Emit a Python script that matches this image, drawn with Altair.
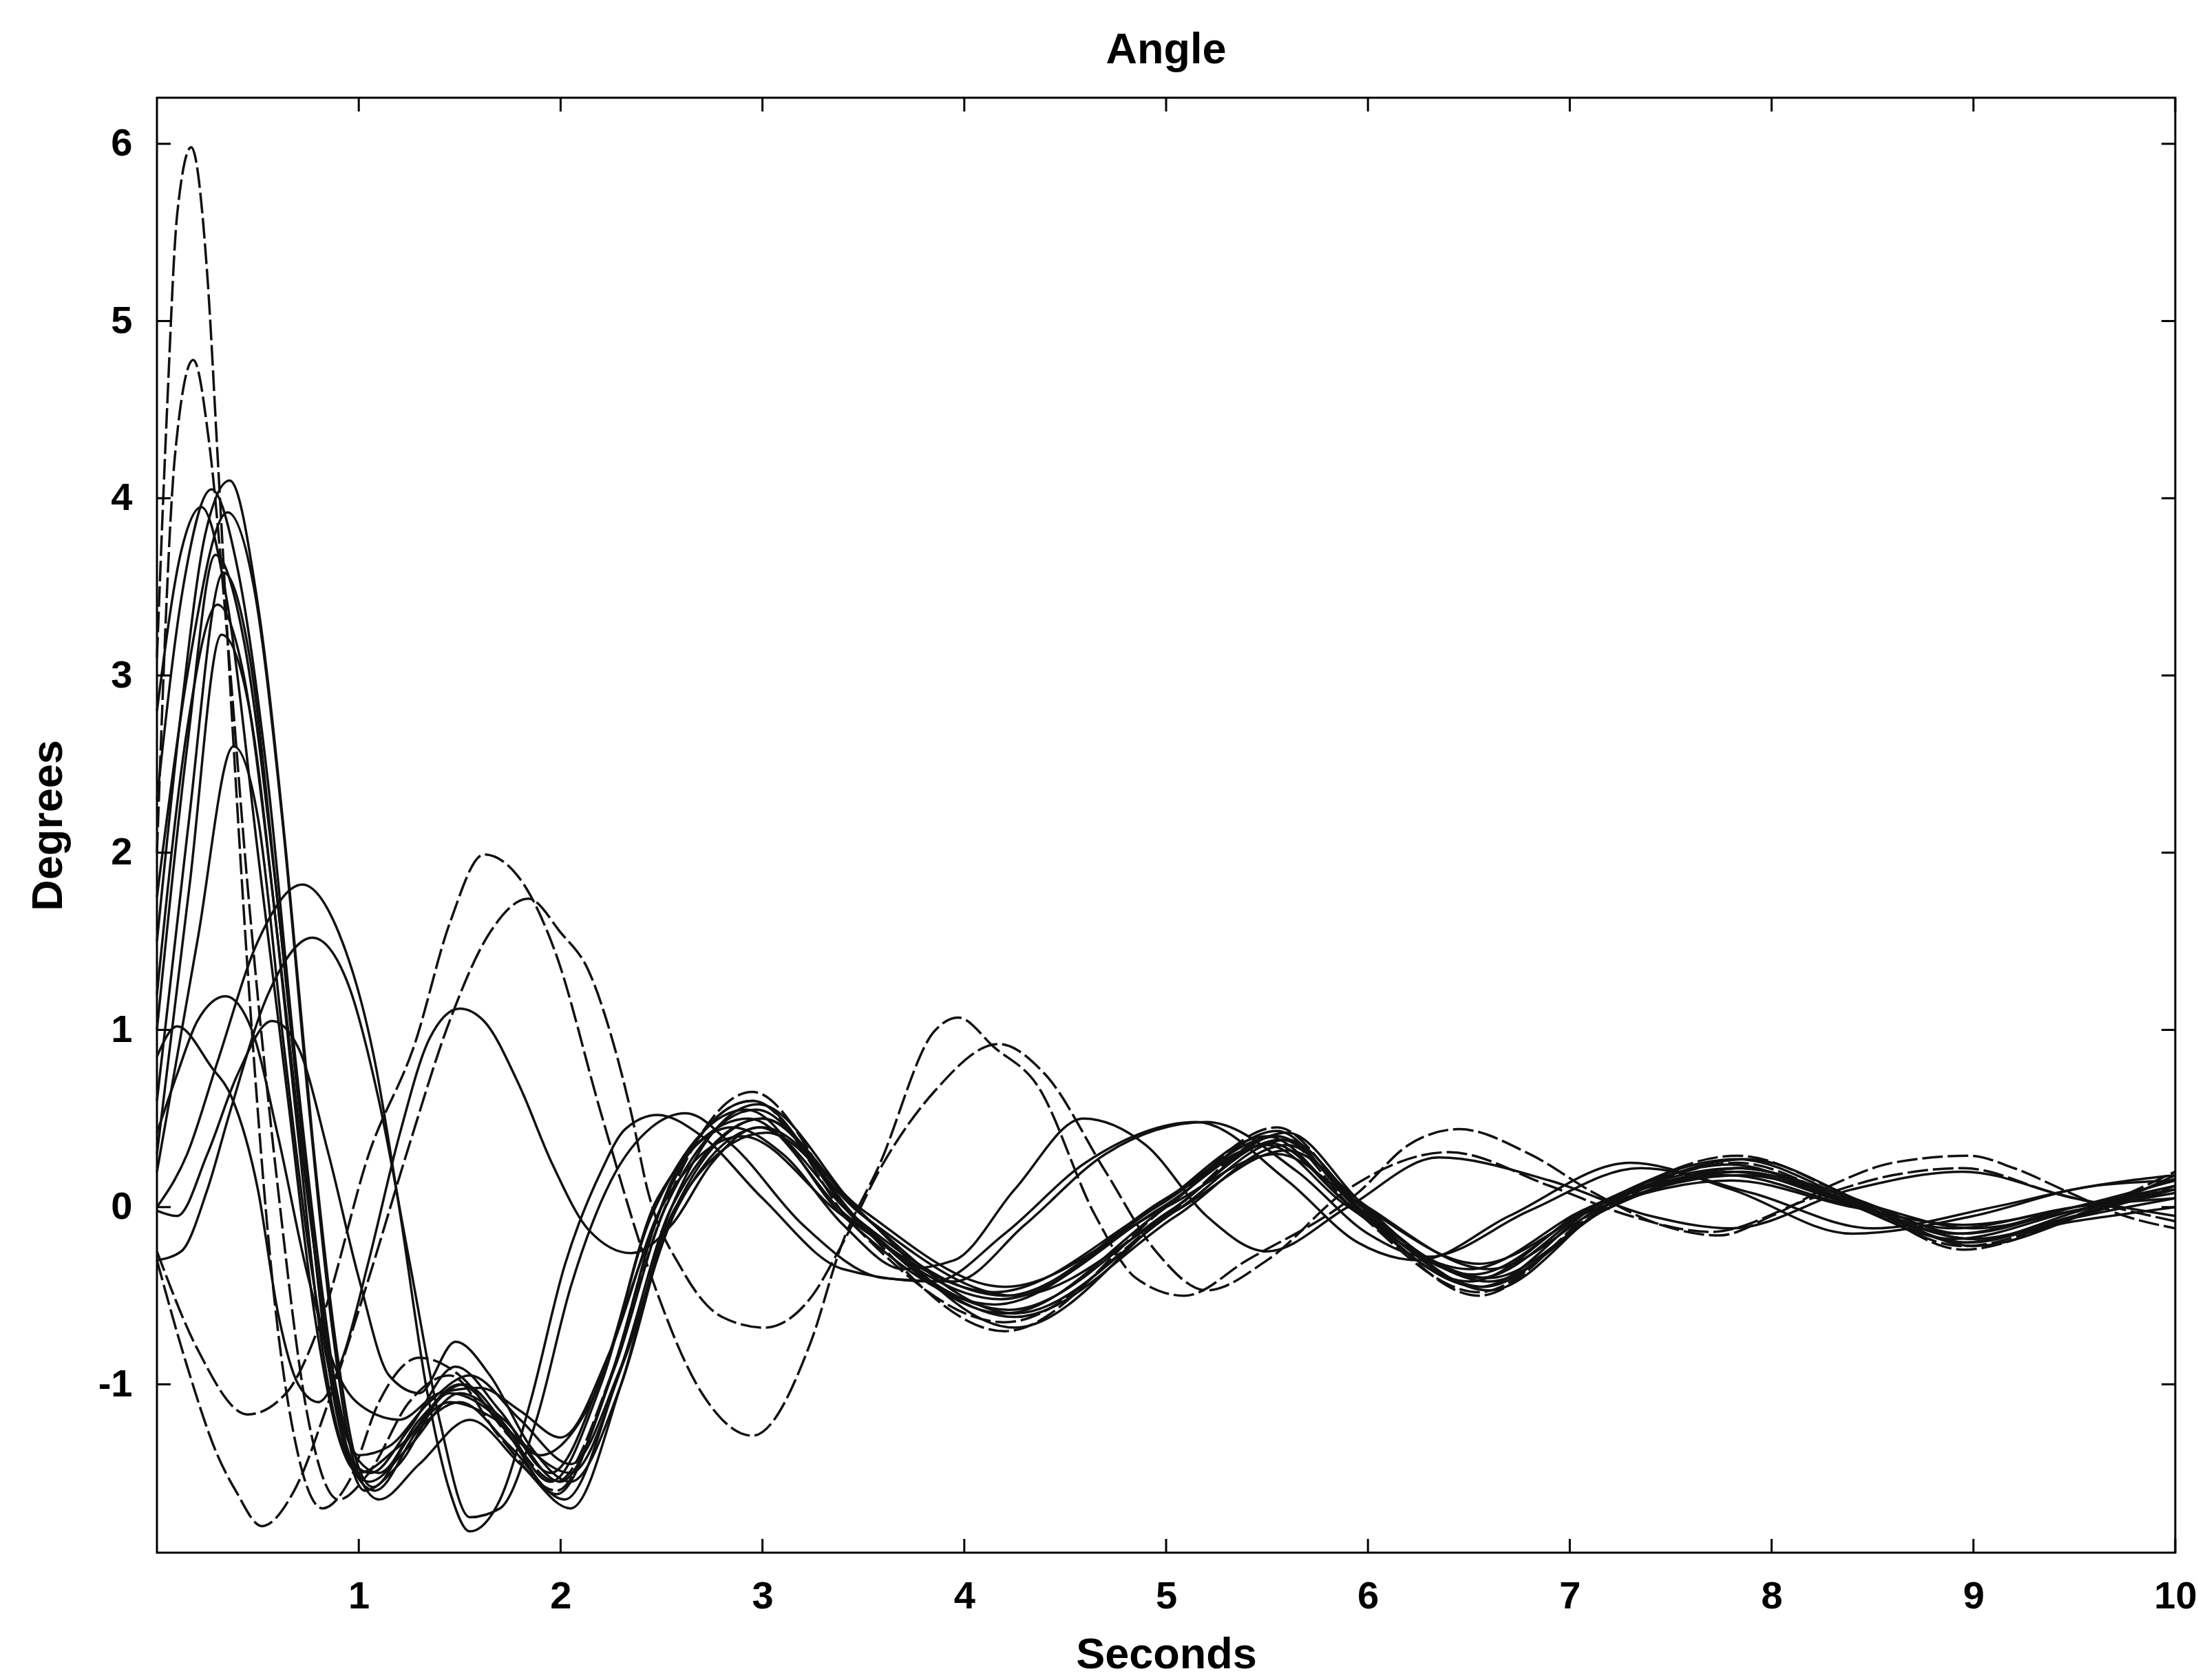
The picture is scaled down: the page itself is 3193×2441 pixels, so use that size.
import altair as alt
import pandas as pd

# ---- data: each curve as (seconds, degrees) pairs ----
C1 = [(0,3.1),(0.05,4.5),(0.1,5.6),(0.17,5.98),(0.25,5.25),(0.3,4.25),(0.38,2.6),(0.47,1.0),(0.58,-0.5),(0.7,-1.4),(0.82,-1.7),(0.95,-1.55),(1.1,-1.1),(1.3,-0.85),(1.5,-0.95),(1.75,-1.3),(1.98,-1.55),(2.25,-0.95),(2.5,-0.05),(2.95,0.65),(3.45,-0.05),(4.2,-0.7),(5.0,0.0),(5.55,0.45),(5.92,0.05),(6.55,-0.5),(7.15,0.0),(7.83,0.29),(8.4,0.05),(8.95,-0.24),(9.5,-0.05),(10,0.2)]
C2 = [(0,2.0),(0.09,4.25),(0.18,4.78),(0.26,4.3),(0.35,3.2),(0.45,1.8),(0.6,0.1),(0.75,-1.2),(0.9,-1.65),(1.05,-1.5),(1.25,-1.1),(1.45,-0.95),(1.7,-1.3),(1.98,-1.6),(2.25,-0.95),(2.5,0.0),(2.95,0.6),(3.45,-0.1),(4.2,-0.65),(5.0,-0.05),(5.55,0.4),(5.92,0.0),(6.55,-0.48),(7.15,-0.02),(7.83,0.25),(8.4,0.02),(8.95,-0.22),(9.5,-0.06),(10,0.12)]
A1 = [(0,1.5),(0.12,2.8),(0.24,3.8),(0.36,4.1),(0.5,3.4),(0.64,2.0),(0.77,0.4),(0.89,-0.8),(0.98,-1.4),(1.07,-1.58),(1.25,-1.3),(1.5,-1.0),(1.72,-1.25),(1.98,-1.62),(2.25,-0.95),(2.5,0.0),(2.95,0.6),(3.45,-0.05),(4.2,-0.6),(5.0,0.0),(5.55,0.43),(5.92,0.02),(6.55,-0.45),(7.15,0.02),(7.83,0.27),(8.4,0.04),(8.95,-0.2),(9.5,-0.03),(10,0.16)]
A2 = [(0,2.3),(0.13,3.5),(0.27,4.05),(0.4,3.6),(0.55,2.4),(0.68,0.9),(0.81,-0.4),(0.92,-1.25),(1.03,-1.6),(1.2,-1.45),(1.45,-1.05),(1.7,-1.2),(1.95,-1.55),(2.2,-1.0),(2.45,-0.05),(2.92,0.55),(3.4,-0.05),(4.15,-0.55),(4.95,0.0),(5.5,0.4),(5.9,0.02),(6.5,-0.42),(7.1,0.0),(7.8,0.24),(8.35,0.03),(8.9,-0.18),(9.5,-0.02),(10,0.1)]
A3 = [(0,1.0),(0.15,2.6),(0.29,3.68),(0.43,3.2),(0.58,1.9),(0.71,0.5),(0.83,-0.7),(0.94,-1.35),(1.05,-1.55),(1.25,-1.35),(1.5,-1.05),(1.72,-1.2),(2.0,-1.55),(2.27,-0.9),(2.52,0.0),(2.97,0.55),(3.47,-0.08),(4.22,-0.58),(5.02,-0.02),(5.57,0.38),(5.95,0.0),(6.57,-0.45),(7.17,-0.02),(7.85,0.22),(8.42,0.02),(8.97,-0.2),(9.5,-0.06),(10,0.05)]
A4 = [(0,0.6),(0.15,2.1),(0.33,3.58),(0.46,3.1),(0.6,1.7),(0.73,0.3),(0.85,-0.9),(0.96,-1.45),(1.08,-1.6),(1.3,-1.25),(1.5,-1.1),(1.75,-1.35),(2.02,-1.65),(2.3,-0.9),(2.55,0.0),(3.0,0.5),(3.5,-0.1),(4.25,-0.62),(5.05,-0.05),(5.6,0.35),(5.97,-0.02),(6.6,-0.4),(7.2,0.0),(7.85,0.2),(8.45,0.0),(9.0,-0.18),(9.5,-0.08),(10,0.0)]
A5 = [(0,0.3),(0.16,1.8),(0.32,3.23),(0.46,2.8),(0.6,1.5),(0.73,0.2),(0.86,-0.85),(0.98,-1.4),(1.1,-1.5),(1.3,-1.2),(1.52,-1.0),(1.78,-1.3),(2.05,-1.5),(2.32,-0.85),(2.57,0.0),(3.02,0.42),(3.5,-0.05),(4.25,-0.5),(5.05,-0.02),(5.6,0.32),(6.0,0.0),(6.6,-0.35),(7.2,0.02),(7.85,0.18),(8.45,0.02),(9.0,-0.12),(9.5,-0.02),(10,0.08)]
A6 = [(0,0.2),(0.2,1.5),(0.38,2.6),(0.5,2.2),(0.63,0.9),(0.76,-0.3),(0.89,-1.1),(1.0,-1.4),(1.15,-1.35),(1.35,-1.1),(1.55,-0.95),(1.8,-1.2),(2.05,-1.45),(2.3,-0.9),(2.58,0.0),(3.0,0.45),(3.5,-0.02),(4.2,-0.45),(5.0,0.0),(5.55,0.3),(5.95,0.02),(6.55,-0.32),(7.15,0.0),(7.8,0.15),(8.4,0.0),(8.95,-0.1),(9.5,0.0),(10,0.12)]
A7 = [(0,1.75),(0.15,3.0),(0.35,3.92),(0.48,3.5),(0.62,2.2),(0.75,0.6),(0.87,-0.7),(0.98,-1.45),(1.1,-1.65),(1.3,-1.45),(1.55,-1.2),(1.8,-1.45),(2.05,-1.7),(2.3,-1.0),(2.55,0.0),(2.98,0.58),(3.48,-0.02),(4.25,-0.68),(5.05,0.0),(5.6,0.42),(5.97,0.02),(6.6,-0.47),(7.2,0.02),(7.88,0.27),(8.45,0.03),(9.0,-0.22),(9.55,-0.04),(10,0.18)]
A8 = [(0,1.2),(0.15,2.7),(0.3,3.4),(0.43,3.0),(0.57,1.8),(0.7,0.4),(0.82,-0.8),(0.94,-1.4),(1.06,-1.5),(1.25,-1.25),(1.48,-0.9),(1.7,-1.15),(1.95,-1.5),(2.22,-0.9),(2.48,0.05),(2.93,0.5),(3.42,-0.05),(4.18,-0.52),(4.98,0.0),(5.52,0.36),(5.9,0.02),(6.52,-0.38),(7.12,0.0),(7.8,0.2),(8.38,0.02),(8.92,-0.15),(9.5,0.0),(10,0.1)]
B1 = [(0,-0.25),(0.2,-0.8),(0.45,-1.17),(0.64,-1.05),(0.82,-0.62),(1.05,0.3),(1.28,0.93),(1.45,1.6),(1.62,1.99),(1.8,1.85),(1.97,1.45),(2.2,0.53),(2.43,-0.33),(2.7,-1.05),(2.95,-1.29),(3.24,-0.76),(3.39,-0.22),(3.58,0.24),(3.85,0.99),(3.97,1.07),(4.15,0.9),(4.36,0.69),(4.65,-0.05),(4.85,-0.4),(5.09,-0.5),(5.4,-0.3),(5.96,0.09),(6.2,0.35),(6.45,0.44),(6.8,0.3),(7.12,0.08),(7.45,-0.1),(7.74,-0.16),(8.0,-0.05),(8.31,0.13),(8.6,0.25),(8.98,0.29),(9.2,0.22),(9.46,0.09),(9.75,-0.05),(10,-0.12)]
B2 = [(0,-0.3),(0.15,-0.9),(0.3,-1.4),(0.39,-1.6),(0.52,-1.8),(0.68,-1.6),(0.85,-1.1),(1.05,-0.4),(1.25,0.35),(1.45,1.05),(1.65,1.55),(1.84,1.74),(2.0,1.55),(2.14,1.33),(2.26,0.93),(2.35,0.53),(2.43,0.1),(2.6,-0.35),(2.8,-0.62),(3.01,-0.68),(3.24,-0.51),(3.39,-0.22),(3.6,0.25),(3.85,0.65),(4.17,0.92),(4.4,0.75),(4.7,0.2),(4.95,-0.25),(5.2,-0.47),(5.5,-0.3),(5.9,0.1),(6.4,0.31),(6.9,0.12),(7.3,-0.05),(7.7,-0.14),(8.2,0.05),(8.6,0.18),(8.95,0.22),(9.4,0.08),(10,-0.08)]
D1 = [(0,0.85),(0.1,1.02),(0.27,0.79),(0.37,0.62),(0.5,0.1),(0.6,-0.6),(0.7,-1.0),(0.8,-1.1),(0.92,-0.85),(1.05,-0.3),(1.2,0.4),(1.35,0.95),(1.5,1.12),(1.62,1.05),(1.79,0.7),(1.96,0.24),(2.14,-0.13),(2.35,-0.26),(2.55,-0.1),(2.75,0.25),(2.98,0.45),(3.45,-0.05),(4.2,-0.5),(5.0,0.05),(5.55,0.4),(5.92,0.05),(6.55,-0.4),(7.15,0.02),(7.83,0.22),(8.4,0.05),(8.95,-0.15),(9.5,0.0),(10,0.15)]
D2 = [(0,0.42),(0.1,0.75),(0.2,1.05),(0.34,1.19),(0.47,1.0),(0.6,0.4),(0.75,-0.4),(0.9,-0.95),(1.05,-1.15),(1.2,-1.2),(1.4,-1.05),(1.6,-1.02),(1.8,-1.15),(2.0,-1.3),(2.25,-0.8),(2.5,0.0),(2.9,0.4),(3.4,-0.05),(4.15,-0.48),(4.95,0.0),(5.5,0.35),(5.88,0.02),(6.5,-0.35),(7.1,0.0),(7.78,0.18),(8.35,0.02),(8.9,-0.12),(9.5,0.0),(10,0.05)]
D3 = [(0,-0.02),(0.1,-0.05),(0.25,0.3),(0.4,0.75),(0.57,1.05),(0.7,0.9),(0.85,0.3),(1.0,-0.4),(1.15,-0.95),(1.3,-1.05),(1.48,-0.76),(1.65,-0.95),(1.85,-1.35),(2.05,-1.55),(2.3,-1.0),(2.55,-0.05),(3.0,0.5),(3.5,-0.05),(4.25,-0.6),(5.05,-0.02),(5.6,0.38),(5.97,0.0),(6.6,-0.42),(7.2,0.0),(7.85,0.22),(8.45,0.0),(9.0,-0.18),(9.5,-0.05),(10,0.1)]
P1 = [(0,0.0),(0.15,0.3),(0.3,0.82),(0.5,1.5),(0.72,1.82),(0.9,1.55),(1.08,0.82),(1.2,0.0),(1.34,-1.05),(1.45,-1.6),(1.55,-1.83),(1.7,-1.65),(1.85,-1.1),(2.02,-0.33),(2.2,0.2),(2.32,0.44),(2.48,0.52),(2.7,0.4),(3.0,0.05),(3.4,-0.35),(3.85,-0.42),(4.2,-0.15),(4.6,0.25),(5.15,0.48),(5.6,0.15),(5.95,-0.2),(6.25,-0.3),(6.7,-0.05),(7.3,0.25),(7.8,0.1),(8.4,-0.15),(9.0,-0.05),(9.5,0.1),(10,0.18)]
P2 = [(0,-0.3),(0.12,-0.25),(0.25,0.1),(0.36,0.53),(0.55,1.2),(0.77,1.52),(0.95,1.25),(1.1,0.6),(1.25,-0.3),(1.4,-1.2),(1.55,-1.75),(1.7,-1.7),(1.88,-1.2),(2.05,-0.45),(2.25,0.15),(2.45,0.45),(2.62,0.53),(2.85,0.35),(3.2,-0.1),(3.6,-0.4),(3.95,-0.42),(4.3,-0.1),(4.7,0.3),(5.2,0.48),(5.65,0.2),(6.0,-0.15),(6.3,-0.28),(6.8,-0.02),(7.35,0.22),(7.9,0.08),(8.5,-0.12),(9.1,0.0),(9.6,0.12),(10,0.15)]
E1 = [(0,2.8),(0.12,3.7),(0.22,3.95),(0.35,3.4),(0.5,2.0),(0.65,0.6),(0.78,-0.6),(0.9,-1.3),(1.0,-1.5),(1.2,-1.35),(1.45,-1.1),(1.68,-1.2),(1.9,-1.4),(2.15,-1.1),(2.4,-0.3),(2.6,0.25),(2.85,0.45),(3.1,0.3),(3.4,-0.1),(3.7,-0.35),(3.95,-0.3),(4.25,0.1),(4.59,0.5),(4.9,0.35),(5.2,-0.05),(5.5,-0.25),(5.9,0.0),(6.35,0.28),(6.9,0.15),(7.4,-0.05),(7.8,-0.12),(8.4,0.1),(8.95,0.2),(9.5,0.05),(10,-0.05)]

SOLID = {"A1": A1, "A2": A2, "A3": A3, "A4": A4, "A5": A5, "A6": A6, "A7": A7,
         "A8": A8, "D1": D1, "D2": D2, "D3": D3, "P1": P1, "P2": P2, "E1": E1}
DASHED = {"C1": C1, "C2": C2, "B1": B1, "B2": B2}

X_TICKS = [1, 2, 3, 4, 5, 6, 7, 8, 9, 10]
Y_TICKS = [-1, 0, 1, 2, 3, 4, 5, 6]
X_DOMAIN = [0, 10]
Y_DOMAIN = [-1.95, 6.26]

TITLE = "Angle"
X_TITLE = "Seconds"
Y_TITLE = "Degrees"

W, H = 2932, 2114
FONT = "Liberation Sans"
TICK_LEN = 20


def frame(curves):
    rows = []
    for name, pts in curves.items():
        for t, v in pts:
            rows.append({"curve": name, "t": t, "v": v})
    return pd.DataFrame(rows)


xscale = alt.Scale(domain=X_DOMAIN, nice=False, zero=False)
yscale = alt.Scale(domain=Y_DOMAIN, nice=False, zero=False)

x_axis = alt.Axis(values=X_TICKS, ticks=False, domain=False, grid=False,
                  labelExpr="'' + datum.value",
                  labelFont=FONT, labelFontSize=56, labelFontWeight="bold",
                  labelColor="black", labelPadding=36, labelFlush=False,
                  title=X_TITLE, titleFont=FONT, titleFontSize=63,
                  titleFontWeight="bold", titleColor="black", titlePadding=26)
y_axis = alt.Axis(values=Y_TICKS, ticks=False, domain=False, grid=False,
                  labelExpr="'' + datum.value",
                  labelFont=FONT, labelFontSize=56, labelFontWeight="bold",
                  labelColor="black", labelPadding=36, labelFlush=False,
                  title=Y_TITLE, titleFont=FONT, titleFontSize=63,
                  titleFontWeight="bold", titleColor="black", titlePadding=40)

X_ENC = alt.X("t:Q", scale=xscale, axis=x_axis)
Y_ENC = alt.Y("v:Q", scale=yscale, axis=y_axis)

solid = alt.Chart(frame(SOLID)).mark_line(
    color="#111111", strokeWidth=3.5, interpolate="monotone"
).encode(x=X_ENC, y=Y_ENC, detail="curve:N")

dashed = alt.Chart(frame(DASHED)).mark_line(
    color="#111111", strokeWidth=3.5, interpolate="monotone", strokeDash=[30, 7]
).encode(x=X_ENC, y=Y_ENC, detail="curve:N")

xt = pd.DataFrame({"t": X_TICKS})
yt = pd.DataFrame({"v": Y_TICKS})

tick_bottom = alt.Chart(xt).mark_rule(color="black", strokeWidth=3).encode(
    x=X_ENC, y=alt.value(H), y2=alt.value(H - TICK_LEN))
tick_top = alt.Chart(xt).mark_rule(color="black", strokeWidth=3).encode(
    x=X_ENC, y=alt.value(0), y2=alt.value(TICK_LEN))
tick_left = alt.Chart(yt).mark_rule(color="black", strokeWidth=3).encode(
    y=Y_ENC, x=alt.value(0), x2=alt.value(TICK_LEN))
tick_right = alt.Chart(yt).mark_rule(color="black", strokeWidth=3).encode(
    y=Y_ENC, x=alt.value(W), x2=alt.value(W - TICK_LEN))

chart = alt.layer(
    solid, dashed, tick_bottom, tick_top, tick_left, tick_right
).properties(
    width=W, height=H,
    title=alt.TitleParams(TITLE, font=FONT, fontSize=63, fontWeight="bold",
                          color="black", anchor="middle", offset=36),
    autosize=alt.AutoSizeParams(type="none"),
    padding={"left": 228, "top": 142, "right": 33, "bottom": 185},
).configure_view(
    stroke="black", strokeWidth=3
)

chart.save("out.html", embed_options={"renderer": "svg", "actions": False})
